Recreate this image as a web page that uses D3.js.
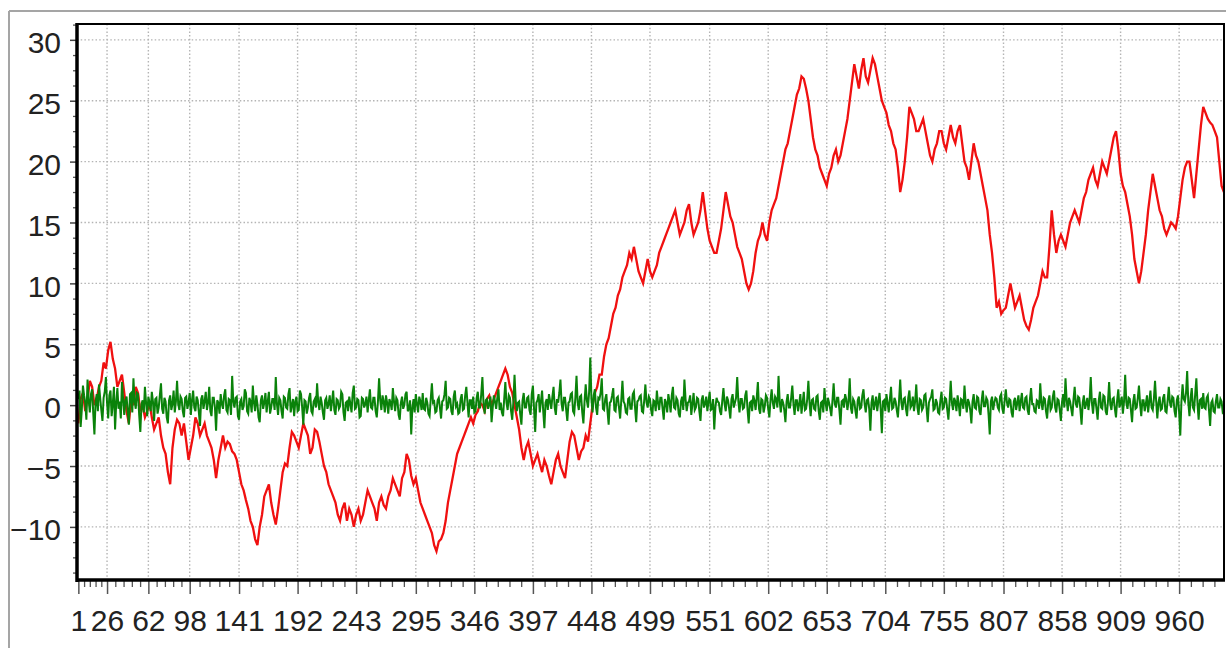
<!DOCTYPE html>
<html>
<head>
<meta charset="utf-8">
<script src="https://cdn.jsdelivr.net/npm/d3@7/dist/d3.min.js"></script>
<style>
html,body{margin:0;padding:0;background:#fff;}
svg{display:block;}
</style>
</head>
<body>
<svg id="chart" width="1226" height="648"></svg>
<script>
// ---- data ----
const xTickLabels = [1, 26, 62, 98, 141, 192, 243, 295, 346, 397, 448, 499, 551, 602, 653, 704, 755, 807, 858, 909, 960];
const yTickLabels = [-10, -5, 0, 5, 10, 15, 20, 25, 30];

// red series: values at index 1, 3, 5, ... (step 2)
const redStep = 2;
const redValues = [
 -1.5, 0.5, 1, -0.5, 0.5, 2, 1.5, 0, 0.5, 1.5, 2, 3.5, 3, 4.5, 5.2, 3.8, 3, 1.5, 2, 2.5,
 1, -0.5, -1.5, 0.5, 0, 1.5, 1, -0.5, 0, -1, -0.5, 0.2, -1, -2, -1.5, -1, -2.5, -3.5, -4, -5.5,
 -6.5, -3.5, -2, -1.2, -1.5, -2.5, -1.5, -3, -4.5, -3.5, -2.5, -1, -1.5, -2.5, -2, -1.5, -2.5, -3, -3.5, -4.5,
 -6, -4.5, -3.5, -2.5, -3.5, -3, -3.2, -3.8, -4, -4.5, -5.5, -6.5, -7, -7.8, -8.5, -9.5, -10, -11, -11.5, -10,
 -9, -7.5, -7, -6.5, -8, -9, -9.8, -8.5, -7, -5.5, -4.8, -5, -3.5, -2.2, -2.5, -3, -3.5, -2.5, -1.5, -2,
 -2.5, -4, -3.5, -2, -2.2, -3, -4, -5, -5.5, -6.5, -7, -7.5, -8, -9, -9.5, -8.5, -8, -9.5, -8.5, -9,
 -10, -9, -8.5, -9.5, -9, -8, -7, -7.5, -8, -8.5, -9.5, -8, -7.5, -8.2, -8.5, -7.5, -7, -6, -6.5, -7,
 -7.5, -6, -5.5, -4, -4.5, -5.8, -6.5, -6, -7, -8, -8.5, -9, -9.5, -10, -10.5, -11.5, -12, -11.2, -11, -10.5,
 -9.5, -8, -7, -6, -5, -4, -3.5, -3, -2.5, -2, -1.5, -1, -1.5, -0.8, -0.5, 0.2, 0, -0.5, 0.5, 0.8,
 0, 0.5, 1, 1.5, 2, 2.5, 3, 2.5, 1.5, 1, 0, -1, -2, -3.5, -4.5, -3.5, -3, -4, -5, -4.5,
 -4, -4.8, -5.5, -4.5, -5, -5.8, -6.5, -5.5, -4.5, -4, -5, -5.5, -6, -4.5, -3, -2.2, -2.5, -3.5, -4.5, -3.8,
 -3.5, -2.5, -3, -1.5, 0, 1, 1.5, 2.5, 2.5, 4, 5, 5.5, 6.5, 7.5, 8, 9, 9.5, 10.5, 11, 11.5,
 12.5, 12, 13, 12, 11, 10.5, 10, 11, 12, 11, 10.5, 11, 11.5, 12.5, 13, 13.5, 14, 14.5, 15, 15.5,
 16, 15, 14, 14.5, 15, 16, 16.5, 15, 14, 14.5, 15, 16, 17.5, 16, 14.5, 13.5, 13, 12.5, 12.5, 13.5,
 14.5, 16, 17.5, 16.5, 15.5, 15, 14, 13, 12.5, 12, 11, 10, 9.5, 10, 11, 12.5, 13.5, 14, 15, 14,
 13.5, 15, 16, 16.5, 17, 18, 19, 20, 21, 21.5, 22.5, 23.5, 24.5, 25.5, 26, 27, 26.8, 26, 25, 23.5,
 22, 21, 20.5, 19.5, 19, 18.5, 18, 19, 19.5, 20.5, 21, 20, 20.5, 21.5, 22.5, 23.5, 25, 26.5, 28, 27,
 26, 27.5, 28.5, 27, 26.5, 27.5, 28.5, 28, 27, 26, 25, 24.5, 24, 23, 22.5, 21.5, 21, 19.5, 17.5, 18.5,
 20, 22, 24.5, 24, 23.5, 22.5, 22.5, 23, 23.5, 22.5, 21.5, 20.5, 20, 21, 21.5, 22.5, 22.5, 21.5, 21, 22,
 23, 22, 21.5, 22.5, 23, 21.5, 20, 19.5, 18.5, 20, 21.5, 20.5, 20, 19, 18, 17, 16, 14, 12.5, 10.5,
 8, 8.5, 7.5, 7.8, 8, 9, 10, 9, 8, 8.5, 9, 8, 7, 6.5, 6.2, 7, 8, 8.5, 9, 10,
 11, 10.5, 10.5, 13, 16, 14, 12.5, 13.5, 14, 13.5, 13, 14, 15, 15.5, 16, 15.5, 15, 16, 17, 17.5,
 18.5, 19, 19.5, 18.5, 18, 19, 20, 19.5, 19, 20, 21, 22, 22.5, 21, 19, 18, 17.5, 16.5, 15.5, 14,
 12, 11, 10, 11, 12.5, 14, 16, 17.5, 19, 18, 17, 16, 15.5, 14.5, 14, 14.5, 15, 14.8, 14.5, 15.5,
 17, 18.5, 19.5, 20, 20, 18.5, 17, 19, 21, 23, 24.5, 24, 23.5, 23.2, 23, 22.5, 22, 20, 18, 17.5
];

// green series: values at every index 1, 2, 3, ... (step 1)
const greenStep = 1;
const greenValues = [
 0.5,1.2,-1.8,-0.4,1.6,0.8,0.2,-1.2,2.1,0.4,-0.6,0.9,1.3,-0.7,-2.4,0.3,0.9,-0.5,1.7,0.6,-0.4,-1.3,0.6,1.1,2.3,0.2,-1.1,0.8,1.2,-0.9,0.1,1.5,-2.0,0.2,1.4,-0.3,0.3,-1.1,1.9,0.5,-0.8,0.4,0.7,-0.5,-1.6,0.9,1.0,-0.6,2.2,0.3,
 -0.3,1.0,0.9,-0.8,-2.2,0.1,0.4,-0.6,1.5,0.2,-0.9,0.7,0.2,-0.5,1.1,0.3,-1.3,0.5,0.6,-0.7,-0.2,0.8,1.8,-0.3,-0.7,0.6,0.3,-1.0,-1.5,0.4,0.8,-0.4,0.1,1.2,-0.6,0.3,2.0,0.1,-0.4,0.7,0.5,-0.5,-1.0,0.6,0.7,-0.3,0.2,1.0,-0.8,0.4,
 1.2,-0.2,-0.5,0.7,0.4,-0.6,-1.7,0.5,0.8,-0.3,0.3,1.1,-0.4,0.2,1.5,-0.5,-0.9,0.6,0.6,-0.2,-2.1,0.4,0.2,-0.7,0.9,0.1,-0.3,0.8,1.3,-0.4,-0.6,0.5,0.4,-0.8,2.4,0.3,-0.2,0.6,0.7,-0.9,-1.2,0.3,0.5,-0.4,-0.1,1.3,1.0,-0.5,-0.7,0.6,
 0.3,-0.6,1.6,0.2,-0.5,0.8,0.1,-1.0,-1.4,0.4,0.8,-0.3,0.2,1.0,-0.6,0.3,1.1,-0.7,-0.2,0.5,0.5,-0.4,2.3,0.1,-0.8,0.6,0.4,-0.5,-1.1,0.7,0.6,-0.2,-0.3,0.9,1.4,-0.6,0.0,0.5,-0.9,0.3,0.7,-0.5,-0.4,1.2,0.9,-0.2,-1.6,0.4,0.3,-0.7,
 -0.2,0.6,1.0,-0.5,-0.7,0.3,0.5,-0.2,1.8,0.2,-0.4,0.7,0.2,-0.6,-1.2,0.4,0.6,-0.3,0.1,0.8,-0.5,0.3,1.2,-0.4,-0.8,0.5,0.4,-0.3,-0.1,1.1,0.9,-0.6,-1.3,0.2,0.3,-0.5,0.7,0.1,-0.6,1.0,1.6,-0.3,-0.2,0.5,0.4,-1.0,-0.9,0.6,0.5,-0.2,
 0.1,0.7,-0.6,0.4,1.3,-0.2,-0.3,0.6,0.6,-0.5,-1.0,0.3,2.2,0.4,-0.4,0.8,0.3,-0.6,0.8,0.2,-0.7,0.5,0.2,-0.4,1.4,0.3,-0.5,0.6,0.4,-0.8,-1.2,0.2,0.7,-0.3,0.0,0.9,1.1,-0.5,-0.3,0.4,-2.4,-0.2,0.5,-0.6,0.9,0.1,-0.6,0.7,0.3,-0.4,
 1.0,-0.3,-0.4,0.6,0.2,-0.7,-0.9,0.5,1.8,0.2,0.3,-0.6,-0.5,0.4,0.6,-0.2,-1.1,0.3,0.4,0.9,2.0,-0.3,-0.2,0.6,0.5,-0.5,-0.8,0.7,1.2,-0.1,0.1,-0.7,-0.6,0.5,0.9,-0.4,-0.3,0.8,1.5,0.2,-1.0,0.4,0.4,-0.3,0.7,-0.6,-0.5,0.6,1.1,-0.2,
 -0.2,0.9,2.3,0.1,-0.7,0.4,0.5,-0.3,0.1,0.7,-1.4,-0.2,0.8,0.3,-0.3,0.6,1.3,-0.4,0.2,-0.6,-0.9,0.5,1.9,0.2,-0.4,0.8,0.6,-0.5,-1.2,0.3,2.5,0.4,-0.5,0.2,0.3,-0.8,-1.6,0.4,1.0,-0.2,-0.2,0.6,0.7,-0.4,-0.8,0.9,1.6,-0.3,-2.2,0.2,
 0.4,0.9,-0.6,0.3,1.2,-0.5,-1.9,0.2,0.5,-0.4,0.9,0.3,-0.3,0.7,1.5,-0.2,-0.8,0.5,0.2,1.0,2.1,0.1,-0.5,0.6,0.6,-0.4,-1.3,0.2,0.3,0.9,1.0,-0.5,-0.7,0.6,2.4,0.2,-0.4,0.7,0.8,-0.6,-1.5,0.3,1.7,0.4,-0.2,1.1,3.9,0.5,-0.6,0.8,
 1.3,-0.2,-0.8,0.6,0.5,1.0,2.2,-0.3,-0.4,0.5,0.9,-0.5,-1.6,0.2,0.3,0.8,1.4,-0.4,-0.5,0.6,0.7,-0.2,-1.1,0.4,2.0,0.3,0.1,-0.6,-0.7,0.5,0.6,-0.3,-0.3,0.9,1.1,-0.2,-1.4,0.3,0.4,0.7,0.8,-0.5,-0.6,0.4,1.7,0.2,-0.2,0.7,0.5,-0.4,
 -0.9,0.4,0.3,-0.5,1.2,0.2,-0.4,0.6,0.6,-0.3,-1.2,0.5,0.2,-0.6,0.9,0.3,-0.6,0.8,1.5,-0.2,-0.3,0.6,0.4,-0.7,-1.0,0.3,0.7,-0.4,2.1,0.5,-0.5,0.2,0.3,0.8,-0.8,0.1,1.0,-0.4,-0.2,0.6,0.5,-0.5,-1.3,0.4,0.8,-0.2,0.1,0.7,-0.5,0.3,
 1.1,-0.4,-0.3,0.5,-2.0,-0.2,0.6,0.3,0.2,-0.5,-0.8,0.4,1.4,0.1,-0.5,0.7,0.4,-0.3,-1.1,0.5,0.9,-0.2,0.2,0.6,2.3,0.3,-0.6,0.5,0.5,-0.3,-0.2,0.8,1.2,-0.4,-1.5,0.2,0.3,-0.5,0.8,0.4,-0.4,0.6,1.9,-0.3,-0.7,0.5,0.4,-0.6,-0.1,0.8,
 0.6,-0.3,-1.0,0.4,1.3,0.2,-0.3,0.7,0.5,-0.2,2.4,0.3,-0.6,0.5,0.2,-0.4,-1.4,0.3,0.9,-0.2,-0.2,0.6,1.6,0.1,-0.8,0.4,0.4,-0.5,0.1,0.9,-0.7,0.2,1.1,-0.4,-0.3,0.5,2.0,0.2,-0.9,0.4,0.5,-0.3,-0.4,0.7,0.8,-0.5,-1.2,0.2,0.3,-0.6,
 1.4,0.2,-0.5,0.6,0.2,-0.3,-0.9,0.4,1.8,0.1,-0.2,0.6,0.6,-0.4,-1.6,0.3,0.4,-0.2,0.9,0.5,-0.4,0.3,2.2,-0.2,-0.7,0.5,0.3,-0.5,-1.1,0.4,0.7,-0.3,-0.2,0.8,1.3,0.1,-0.6,0.4,0.5,-0.3,-2.1,0.2,0.8,-0.4,0.1,0.7,-0.5,0.3,1.0,-0.3,
 -2.3,0.3,0.4,-0.5,0.9,0.2,-0.6,0.5,1.5,-0.3,-0.2,0.6,0.3,-0.4,-1.0,0.4,2.1,0.2,-0.4,0.5,0.6,-0.3,-0.9,0.6,1.2,-0.2,0.0,0.7,-0.5,0.3,1.7,-0.2,-0.8,0.5,0.4,-0.4,-0.2,0.8,0.9,-0.3,-1.4,0.2,0.5,0.7,1.3,-0.4,-0.3,0.5,0.2,-0.6,
 -0.7,0.4,1.1,-0.3,-0.2,0.6,0.5,-0.4,-1.2,0.3,2.0,0.2,-0.4,0.6,0.3,-0.5,0.8,0.1,-0.9,0.5,0.4,-0.3,1.6,0.2,-0.6,0.5,0.2,-0.4,-1.5,0.3,0.9,-0.2,-0.3,0.7,0.6,-0.5,-0.8,0.4,1.2,-0.1,-0.1,0.6,0.4,-0.8,-2.4,0.3,0.7,-0.4,0.2,0.6,
 0.5,-0.2,-0.4,0.7,0.9,-0.3,-0.7,0.4,1.3,0.2,-0.2,0.5,0.4,-0.6,-1.0,0.3,0.6,-0.4,0.2,0.8,-0.5,0.3,1.0,-0.2,-0.3,0.6,0.7,-0.4,-0.8,0.5,1.4,0.1,0.1,-0.5,-0.6,0.4,0.3,-0.3,1.8,0.2,-0.4,0.6,0.5,-0.5,-1.1,0.3,0.8,-0.4,-0.2,0.7,
 1.2,-0.2,-0.6,0.5,0.4,-0.4,-1.3,0.3,0.9,-0.2,2.2,0.4,-0.5,0.6,0.3,-0.3,-0.9,0.5,1.5,0.1,-0.2,0.7,0.6,-0.4,-1.6,0.2,0.8,-0.3,0.1,0.6,-0.4,0.4,2.3,0.2,-0.7,0.5,0.5,-0.3,-1.2,0.4,1.1,-0.2,-0.3,0.8,0.7,-0.5,-0.8,0.3,1.9,0.1,
 -0.4,0.5,0.6,-0.3,-1.0,0.4,1.3,-0.2,0.2,0.7,-0.7,0.3,2.5,0.2,-0.3,0.6,0.5,-0.4,-1.4,0.3,0.9,-0.3,-0.2,0.6,1.6,0.1,-0.9,0.4,0.4,-0.5,0.1,0.8,-0.6,0.3,1.2,-0.2,-0.4,0.5,2.0,0.3,-1.1,0.2,0.7,-0.4,-0.3,0.6,0.9,-0.5,-0.6,0.4,
 1.5,0.2,-0.2,0.7,0.6,-0.5,-1.0,0.4,0.8,-0.6,-2.5,0.3,1.7,0.5,0.3,1.0,2.8,0.2,-0.9,0.6,1.4,-0.2,-0.4,0.9,2.2,0.1,-1.2,0.4,0.5,-0.3,1.0,-0.2,-0.3,0.6,0.8,-0.4,-1.7,0.2,0.4,-0.5,-0.6,0.3,0.9,-0.2,-0.2,0.5,0.3,-0.6,-0.5,0.2
];

// ---- layout ----
const W = 1226, H = 648;
const plot = {left: 77, top: 24, right: 1224, bottom: 580};

const svg = d3.select('#chart');

const x = d3.scaleLinear().domain([0, 999]).range([77.2, 1223.9]);
const y = d3.scaleLinear().domain([-14.36, 31.3]).range([plot.bottom, plot.top]);

// outer gray frame
svg.append('line').attr('x1', 9).attr('x2', 9).attr('y1', 11).attr('y2', H + 5)
  .attr('stroke', '#a5a5a5').attr('stroke-width', 2);
svg.append('line').attr('x1', 9).attr('x2', W + 5).attr('y1', 11).attr('y2', 11)
  .attr('stroke', '#a5a5a5').attr('stroke-width', 2);

// grid
const grid = svg.append('g');
grid.selectAll('line.gx').data(xTickLabels.slice(1)).join('line')
  .attr('x1', d => x(d)).attr('x2', d => x(d))
  .attr('y1', plot.top).attr('y2', plot.bottom)
  .attr('stroke', '#b4b4b4').attr('stroke-width', 1.4).attr('stroke-dasharray', '1.5,2.2');
grid.selectAll('line.gy').data(yTickLabels).join('line')
  .attr('x1', plot.left).attr('x2', plot.right)
  .attr('y1', d => y(d)).attr('y2', d => y(d))
  .attr('stroke', '#b4b4b4').attr('stroke-width', 1.4).attr('stroke-dasharray', '1.5,2.2');

// series
const redData = redValues.map((v, i) => [1 + i * redStep, v]);
const greenData = greenValues.map((v, i) => [1 + i * greenStep, v]);
const line = d3.line().x(d => x(d[0])).y(d => y(d[1]));

svg.append('defs').append('clipPath').attr('id', 'clip')
  .append('rect').attr('x', plot.left).attr('y', plot.top)
  .attr('width', plot.right - plot.left).attr('height', plot.bottom - plot.top);

const series = svg.append('g').attr('clip-path', 'url(#clip)');
series.append('path').datum(redData).attr('d', line)
  .attr('fill', 'none').attr('stroke', '#f01010').attr('stroke-width', 2.3).attr('stroke-linejoin', 'miter');
series.append('path').datum(greenData).attr('d', line)
  .attr('fill', 'none').attr('stroke', '#0a820a').attr('stroke-width', 2).attr('stroke-linejoin', 'miter');

// y minor ticks
const yMinor = d3.range(-13.75, 31.3, 1.25).filter(v => Math.abs(v / 5 - Math.round(v / 5)) > 1e-6);
svg.append('g').attr('transform', `translate(${plot.left - 1},0)`)
  .call(d3.axisLeft(y).tickValues(yMinor).tickSize(3).tickFormat(''))
  .call(g => g.select('.domain').remove())
  .call(g => g.selectAll('line').attr('stroke', '#555').attr('stroke-width', 1.3));
const yAxisG = svg.append('g').attr('transform', `translate(${plot.left - 1},0)`)
  .call(d3.axisLeft(y).tickValues(yTickLabels).tickSize(6).tickPadding(10).tickFormat(d3.format('d')))
  .call(g => g.select('.domain').remove());
yAxisG.selectAll('line').attr('stroke', '#444').attr('stroke-width', 1.5);
yAxisG.selectAll('text')
  .attr('font-family', 'Liberation Sans, Arial, sans-serif').attr('font-size', 30)
  .attr('fill', '#222').attr('dy', '0.36em').attr('x', -15)
  .attr('transform', 'translate(0,2)');

// x minor ticks: 5 subdivisions between labelled ticks
const xMinor = [];
for (let i = 0; i < xTickLabels.length - 1; i++) {
  const a = xTickLabels[i], b = xTickLabels[i + 1];
  for (let j = 1; j < 5; j++) xMinor.push(a + (b - a) * j / 5);
}
for (let v = 960 + 10.24; v < 999; v += 10.24) xMinor.push(v);
svg.append('g').attr('transform', `translate(0,${plot.bottom + 1})`)
  .call(d3.axisBottom(x).tickValues(xMinor).tickSize(6).tickFormat(''))
  .call(g => g.select('.domain').remove())
  .call(g => g.selectAll('line').attr('stroke', '#555').attr('stroke-width', 1.3));
const xAxisG = svg.append('g').attr('transform', `translate(0,${plot.bottom + 1})`)
  .call(d3.axisBottom(x).tickValues(xTickLabels).tickSize(13).tickPadding(16).tickFormat(d3.format('d')))
  .call(g => g.select('.domain').remove());
xAxisG.selectAll('line').attr('stroke', '#555').attr('stroke-width', 1.5);
xAxisG.selectAll('text')
  .attr('font-family', 'Liberation Sans, Arial, sans-serif').attr('font-size', 30)
  .attr('fill', '#222').attr('dy', '0.71em');

// plot frame
svg.append('line').attr('x1', plot.left).attr('x2', plot.left).attr('y1', plot.top - 1).attr('y2', plot.bottom + 2)
  .attr('stroke', '#000').attr('stroke-width', 3.5);
svg.append('line').attr('x1', plot.left - 1).attr('x2', plot.right + 1).attr('y1', plot.bottom).attr('y2', plot.bottom)
  .attr('stroke', '#000').attr('stroke-width', 3.5);
svg.append('line').attr('x1', plot.left).attr('x2', plot.right + 1).attr('y1', plot.top).attr('y2', plot.top)
  .attr('stroke', '#000').attr('stroke-width', 2);
svg.append('line').attr('x1', plot.right).attr('x2', plot.right).attr('y1', plot.top).attr('y2', plot.bottom)
  .attr('stroke', '#000').attr('stroke-width', 2);
</script>
</body>
</html>
